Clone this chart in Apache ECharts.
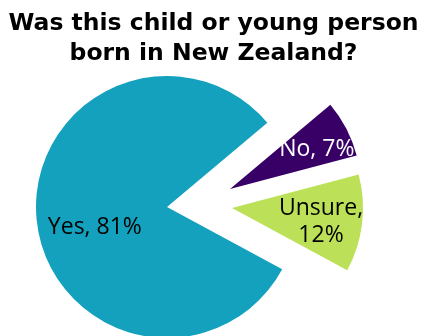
<!DOCTYPE html>
<html>
<head>
<meta charset="utf-8">
<script src="https://cdn.jsdelivr.net/npm/echarts@6/dist/echarts.min.js"></script>
<style>
  html, body { margin: 0; padding: 0; background: #fff; }
  #chart { width: 427px; height: 336px; }
</style>
</head>
<body>
<div id="chart"></div>
<script>
var titleText = 'Was this child or young person\nborn in New Zealand?';
var categories = ['No', 'Unsure', 'Yes'];
var percents = [7, 12, 81];
var colors = ['#380066', '#bce158', '#13a1bd'];
var labelColors = ['#ffffff', '#000000', '#000000'];
// each slice is its own series so it can be pulled out of the pie separately
var centers = [[230, 189], [232, 208], [167, 207]];
var labelShift = [[26, -8], [21, 6], [-4, 14]];

var myChart = echarts.init(document.getElementById('chart'));

var series = [];
for (var i = 0; i < categories.length; i++) {
    var data = [];
    for (var j = 0; j < categories.length; j++) {
        var item = { value: percents[j], name: categories[j] };
        if (j !== i) {
            item.itemStyle = { color: 'rgba(0,0,0,0)' };
            item.label = { show: false };
        }
        data.push(item);
    }
    series.push({
        type: 'pie',
        center: centers[i],
        radius: 131,
        startAngle: 40,
        clockwise: true,
        silent: true,
        animation: false,
        label: {
            show: true,
            position: 'inside',
            color: labelColors[i],
            fontFamily: 'Open Sans',
            fontSize: 23,
            lineHeight: 27,
            formatter: function (p) {
                if (p.name === 'Unsure') return p.name + ',\n' + p.value + '%';
                return p.name + ', ' + p.value + '%';
            }
        },
        labelLayout: (function (k) {
            return function () { return { dx: labelShift[k][0], dy: labelShift[k][1] }; };
        })(i),
        labelLine: { show: false },
        itemStyle: { color: colors[i] },
        data: data
    });
}

var option = {
    title: {
        text: titleText,
        left: 'center',
        top: 4,
        padding: [5, 0, 5, 8],
        textStyle: {
            fontFamily: 'DejaVu Sans',
            fontWeight: 'bold',
            fontSize: 23.5,
            lineHeight: 30,
            color: '#000'
        }
    },
    series: series
};
myChart.setOption(option);
</script>
</body>
</html>
